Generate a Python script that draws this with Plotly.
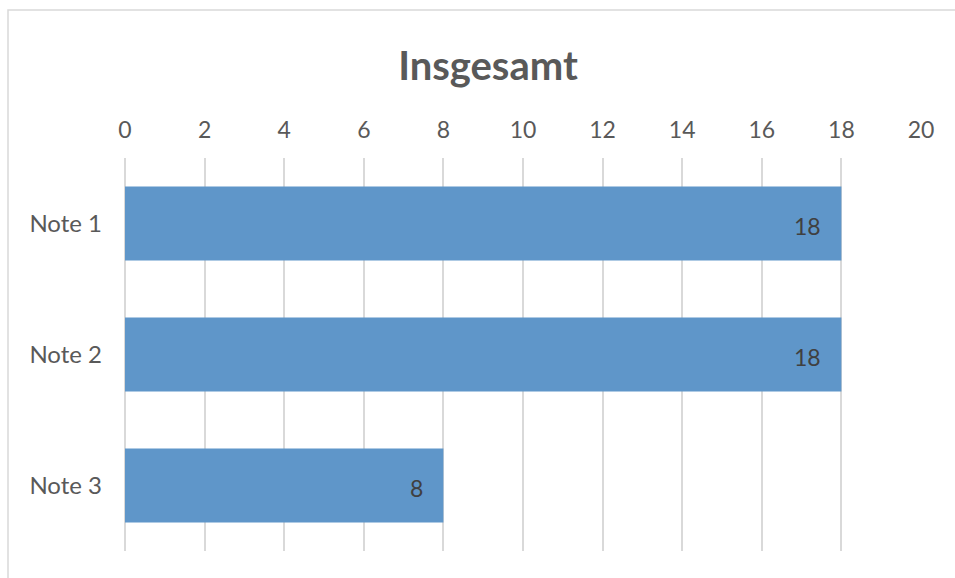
import plotly.graph_objects as go

# Chart data
categories = ["Note 1", "Note 2", "Note 3"]
values = [18, 18, 8]
tick_values = [0, 2, 4, 6, 8, 10, 12, 14, 16, 18, 20]

BAR_COLOR = "#5F96C9"
TEXT_COLOR = "#595959"
GRID_COLOR = "#D9D9D9"
FONT = "Lato, 'Open Sans', sans-serif"

W, H = 955, 578
M_L, M_R, M_T, M_B = 125, 34, 158, 27
PW, PH = W - M_L - M_R, H - M_T - M_B

fig = go.Figure()
fig.add_trace(go.Bar(
    x=values,
    y=categories,
    orientation="h",
    width=0.565,
    marker=dict(color=BAR_COLOR, line=dict(width=0)),
    hoverinfo="skip",
))

# value labels at the inner end of each bar
for cat, val in zip(categories, values):
    fig.add_annotation(
        x=val, y=cat, text=str(val), showarrow=False,
        xanchor="right", yanchor="middle", xshift=-18, yshift=-2,
        font=dict(family=FONT, size=23, color="#404040"),
    )

# outer chart frame
fig.add_shape(
    type="rect", xref="paper", yref="paper",
    x0=(8 - M_L) / PW, x1=(W + 20 - M_L) / PW,
    y0=-(M_B + 20) / PH, y1=(H - M_B - 10) / PH,
    line=dict(color=GRID_COLOR, width=1.5), fillcolor="rgba(0,0,0,0)",
    layer="below",
)

fig.update_layout(
    width=W, height=H,
    margin=dict(l=M_L, r=M_R, t=M_T, b=M_B),
    paper_bgcolor="white", plot_bgcolor="white",
    showlegend=False,
    title=dict(
        text="<b>Insgesamt</b>", x=488 / W, xanchor="center",
        y=1 - 66 / H, yanchor="middle",
        font=dict(family=FONT, size=40, color=TEXT_COLOR),
    ),
    xaxis=dict(
        side="top", range=[0, 20], tickvals=tick_values,
        showgrid=True, gridcolor=GRID_COLOR, gridwidth=1.5,
        zeroline=True, zerolinecolor=GRID_COLOR, zerolinewidth=1.5,
        showline=False, ticks="",
        ticklabelstandoff=14,
        tickfont=dict(family=FONT, size=23, color=TEXT_COLOR),
        fixedrange=True,
    ),
    yaxis=dict(
        categoryorder="array", categoryarray=categories,
        autorange="reversed", showgrid=False, zeroline=False,
        showline=False, ticks="", ticklabelstandoff=22,
        tickfont=dict(family=FONT, size=24, color=TEXT_COLOR),
        fixedrange=True,
    ),
)

fig.write_html("out.html")
